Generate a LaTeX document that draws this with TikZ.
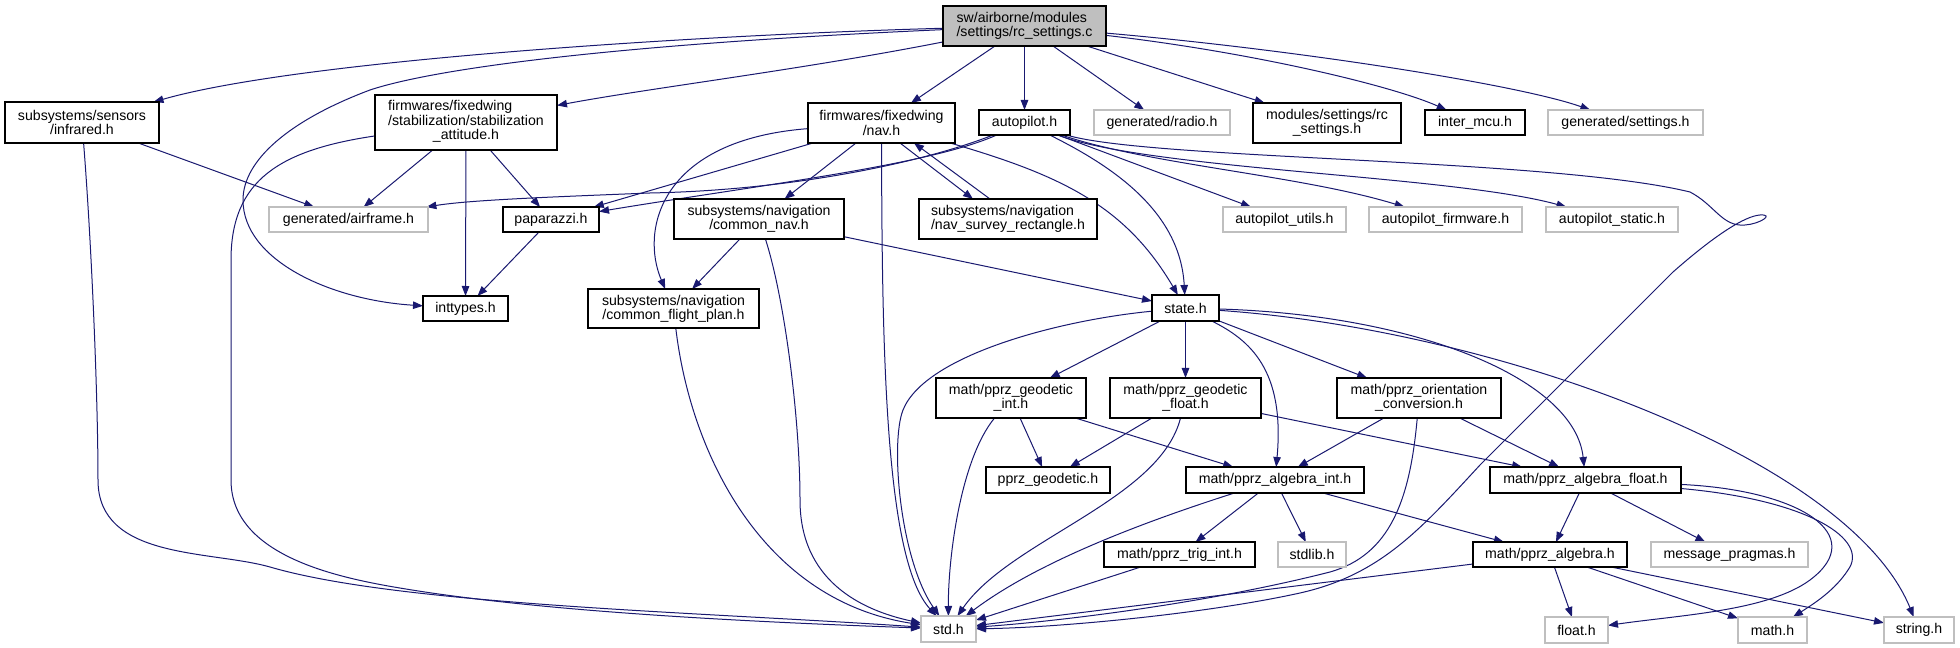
\documentclass[tikz,border=0pt]{standalone}
\usepackage{fontspec}
\setmainfont{Liberation Sans}
\usetikzlibrary{arrows.meta,calc}
\definecolor{edgeblue}{HTML}{191970}
\definecolor{greyline}{HTML}{BFBFBF}
\definecolor{rootfill}{HTML}{BFBFBF}
\pgfdeclarelayer{bg}
\pgfsetlayers{bg,main}
\newcommand{\lblfont}{\fontsize{10.6pt}{10.7pt}\selectfont}
\newcommand{\nd}[7][blk]{\node[#1, minimum width={(#5-#3)*0.75pt}, minimum height={(#6-#4)*0.75pt}] (#2) at ({(#3+#5)/2},{(#4+#6)/2}) {#7};}
\tikzset{
  blk/.style={draw=black, line width=0.8pt, fill=white, inner sep=0pt, outer sep=0pt, font=\lblfont, align=center, anchor=center},
  gry/.style={blk, draw=greyline},
  rootbox/.style={blk, fill=rootfill},
  dep/.style={draw=edgeblue, line width=0.75pt, -{Triangle[length=7.5pt,width=5.6pt]}},
}
\begin{document}
\begin{tikzpicture}[x=0.75pt,y=-0.75pt]
\useasboundingbox (0,0) rectangle (1960,648);
% nodes
\nd[rootbox,align=left]{rc}{943}{6}{1106}{46}{sw/airborne/modules\\/settings/rc\_settings.c}
\nd{inf}{5}{102}{159}{143}{subsystems/sensors\\/infrared.h}
\nd{stab}{375}{95}{557}{150}{\begin{tabular}{@{}l@{}}firmwares/fixedwing\\/stabilization/stabilization\\\multicolumn{1}{@{}c@{}}{\_attitude.h}\end{tabular}}
\nd{nav}{808}{103}{955}{143}{firmwares/fixedwing\\/nav.h}
\nd{ap}{979}{110}{1070}{135}{autopilot.h}
\nd[gry]{radio}{1094}{110}{1230}{135}{generated/radio.h}
\nd{modules}{1253}{103}{1401}{143}{modules/settings/rc\\\_settings.h}
\nd{inter}{1425}{110}{1525}{135}{inter\_mcu.h}
\nd[gry]{gset}{1548}{110}{1703}{135}{generated/settings.h}
\nd[gry]{airframe}{269}{207}{428}{232}{generated/airframe.h}
\nd{pap}{503}{207}{599}{232}{paparazzi.h}
\nd{cn}{674}{199}{844}{239}{subsystems/navigation\\/common\_nav.h}
\nd[blk,align=left]{survey}{919}{199}{1097}{239}{subsystems/navigation\\/nav\_survey\_rectangle.h}
\nd[gry]{utils}{1223}{207}{1346}{232}{autopilot\_utils.h}
\nd[gry]{fw}{1369}{207}{1522}{232}{autopilot\_firmware.h}
\nd[gry]{static}{1546}{207}{1678}{232}{autopilot\_static.h}
\nd{inttypes}{423}{296}{508}{321}{inttypes.h}
\nd{cfp}{588}{289}{759}{328}{subsystems/navigation\\/common\_flight\_plan.h}
\nd{state}{1152}{295}{1219}{321}{state.h}
\nd{gi}{936}{378}{1086}{418}{math/pprz\_geodetic\\\_int.h}
\nd{gf}{1110}{378}{1261}{418}{math/pprz\_geodetic\\\_float.h}
\nd{ori}{1337}{378}{1501}{418}{math/pprz\_orientation\\\_conversion.h}
\nd{pg}{986}{467}{1110}{493}{pprz\_geodetic.h}
\nd{aint}{1186}{467}{1364}{493}{math/pprz\_algebra\_int.h}
\nd{afl}{1490}{467}{1681}{493}{math/pprz\_algebra\_float.h}
\nd{trig}{1104}{542}{1255}{567}{math/pprz\_trig\_int.h}
\nd[gry]{stdlib}{1278}{542}{1346}{567}{stdlib.h}
\nd{ah}{1473}{542}{1627}{567}{math/pprz\_algebra.h}
\nd[gry]{msg}{1651}{542}{1808}{567}{message\_pragmas.h}
\nd[gry]{std}{921}{616}{976}{642}{std.h}
\nd[gry]{float}{1545}{617}{1608}{643}{float.h}
\nd[gry]{math}{1738}{617}{1807}{643}{math.h}
\nd[gry]{string}{1884}{617}{1954}{643}{string.h}
% edges
\begin{pgfonlayer}{bg}
\fill[white] (0,0) rectangle (1960,648);
% rc_settings.c
\draw[dep] (rc) .. controls (700,35) and (300,60) .. (inf);
\draw[dep] (rc) .. controls (600,45) and (430,70) .. (370,90) .. controls (290,120) and (243,160) .. (243,200) .. controls (243,260) and (330,300) .. (inttypes);
\draw[dep] (rc) .. controls (800,70) and (650,88) .. (stab);
\draw[dep] (rc) -- (nav);
\draw[dep] (rc) -- (ap);
\draw[dep] (rc) -- (radio);
\draw[dep] (rc) -- (modules);
\draw[dep] (rc) .. controls (1250,52) and (1390,85) .. (inter);
\draw[dep] (rc) .. controls (1300,50) and (1520,85) .. (gset);
% infrared
\draw[dep] (inf) -- (airframe);
\draw[dep] (inf) .. controls (92,250) and (98,400) .. (98,480) .. controls (98,560) and (210,550) .. (270,567) .. controls (400,605) and (700,612) .. (std);
% stabilization
\draw[dep] (stab) -- (airframe);
\draw[dep] (stab) -- (inttypes);
\draw[dep] (stab) -- (pap);
\draw[dep] (stab) .. controls (280,150) and (231,180) .. (231,260) -- (231,480) .. controls (231,560) and (350,580) .. (412,590) .. controls (550,612) and (750,622) .. (std);
% paparazzi
\draw[dep] (pap) -- (inttypes);
% nav
\draw[dep] (nav) -- (pap);
\draw[dep] (nav) .. controls (660,140) and (640,230) .. (cfp);
\draw[dep] (nav) -- (cn);
\draw[dep] ($(nav.south)+(18.5,0)$) -- ($(survey.north)+(-35,0)$);
\draw[dep] ($(survey.north)+(-18,0)$) -- ($(nav.south)+(32.5,0)$);
\draw[dep] (nav) .. controls (882,350) and (885,560) .. (std);
\draw[dep] (nav) .. controls (1060,175) and (1125,205) .. (state);
% autopilot
\draw[dep] (ap) .. controls (930,160) and (800,190) .. (650,193) .. controls (550,197) and (470,200) .. (airframe);
\draw[dep] (ap) .. controls (930,165) and (760,185) .. (pap);
\draw[dep] (ap) .. controls (1110,165) and (1180,210) .. (state);
\draw[dep] (ap) -- (utils);
\draw[dep] (ap) .. controls (1150,165) and (1300,175) .. (fw);
\draw[dep] (ap) .. controls (1150,170) and (1450,175) .. (static);
\draw[dep] (ap) .. controls (1150,160) and (1550,158) .. (1690,192) .. controls (1715,205) and (1722,227) .. (1745,225) .. controls (1760,224) and (1775,214) .. (1760,215) .. controls (1745,216) and (1715,235) .. (1673,272) -- (1480,465) .. controls (1420,530) and (1380,575) .. (1300,593) .. controls (1200,615) and (1050,628) .. (std);
% common_nav
\draw[dep] (cn) -- (cfp);
\draw[dep] (cn) -- (state);
\draw[dep] (cn) .. controls (785,300) and (800,420) .. (800,500) .. controls (800,580) and (860,610) .. (std);
% common_flight_plan
\draw[dep] (cfp) .. controls (690,450) and (760,600) .. (std);
% state
\draw[dep] (state) .. controls (1060,320) and (925,355) .. (903,410) .. controls (890,443) and (900,560) .. (std);
\draw[dep] (state) -- (gi);
\draw[dep] (state) -- (gf);
\draw[dep] (state) .. controls (1250,340) and (1285,370) .. (aint);
\draw[dep] (state) -- (ori);
\draw[dep] (state) .. controls (1420,315) and (1575,380) .. (afl);
\draw[dep] (state) .. controls (1500,330) and (1850,460) .. (string);
% geodetic int
\draw[dep] (gi) .. controls (960,460) and (948,560) .. (std);
\draw[dep] (gi) -- (pg);
\draw[dep] (gi) -- (aint);
% geodetic float
\draw[dep] (gf) -- (pg);
\draw[dep] (gf) .. controls (1160,500) and (1010,540) .. (std);
\draw[dep] (gf) -- (afl);
% orientation
\draw[dep] (ori) -- (aint);
\draw[dep] (ori) -- (afl);
\draw[dep] (ori) .. controls (1410,500) and (1390,555) .. (1330,572) .. controls (1200,605) and (1050,622) .. (std);
% algebra int
\draw[dep] (aint) .. controls (1150,520) and (1040,560) .. (std);
\draw[dep] (aint) -- (trig);
\draw[dep] (aint) -- (stdlib);
\draw[dep] (aint) -- (ah);
% algebra float
\draw[dep] (afl) -- (ah);
\draw[dep] (afl) -- (msg);
\draw[dep] (afl) .. controls (1800,490) and (1870,535) .. (1810,580) .. controls (1768,611) and (1680,615) .. (float);
\draw[dep] (afl) .. controls (1810,500) and (1870,540) .. (1848,570) .. controls (1835,590) and (1815,603) .. (math);
% trig
\draw[dep] (trig) -- (std);
% algebra
\draw[dep] (ah) -- (std);
\draw[dep] (ah) -- (float);
\draw[dep] (ah) -- (math);
\draw[dep] (ah) -- (string);
\end{pgfonlayer}
\end{tikzpicture}
\end{document}
